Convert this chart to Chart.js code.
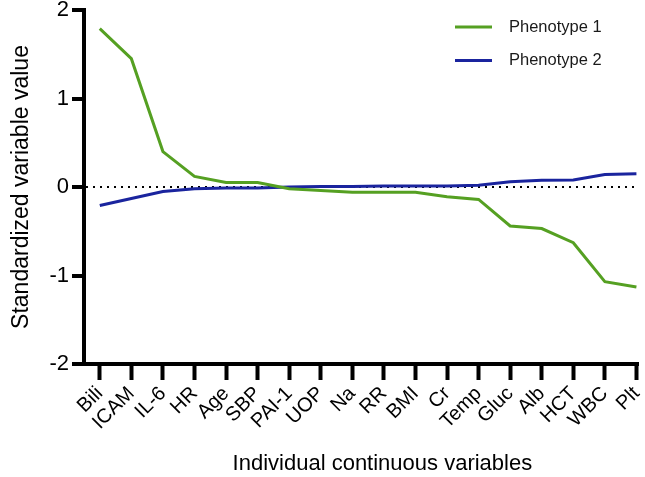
<!DOCTYPE html>
<html>
<head>
<meta charset="utf-8">
<title>Standardized variable value by phenotype</title>
<script src="https://cdn.jsdelivr.net/npm/chart.js@4.4.0/dist/chart.umd.min.js"></script>
<style>
  html, body { margin: 0; padding: 0; background: #fff; }
  canvas { display: block; }
</style>
</head>
<body>
<canvas id="chart" width="645" height="477"></canvas>
<script>
// data
const variables  = ["Bili", "ICAM", "IL-6", "HR", "Age", "SBP", "PAI-1", "UOP", "Na",
                    "RR", "BMI", "Cr", "Temp", "Gluc", "Alb", "HCT", "WBC", "Plt"];
const phenotype1 = [1.79, 1.45, 0.40, 0.12, 0.05, 0.05, -0.02, -0.04, -0.06,
                    -0.06, -0.06, -0.11, -0.14, -0.44, -0.47, -0.63, -1.07, -1.13];
const phenotype2 = [-0.21, -0.13, -0.05, -0.02, -0.01, -0.01, 0.00, 0.005, 0.005,
                    0.01, 0.01, 0.01, 0.02, 0.06, 0.075, 0.08, 0.14, 0.15];
const yTicks     = [-2, -1, 0, 1, 2];

const FONT = "'Liberation Sans', Arial, Helvetica, sans-serif";
Chart.defaults.font.family = FONT;
Chart.defaults.color = "#000";

const toPoints = vals => vals.map((v, i) => ({ x: i, y: v }));

// legend drawn top-right inside the plot, stacked vertically
const sideLegend = {
  id: "sideLegend",
  afterDraw(chart) {
    const { ctx, chartArea } = chart;
    ctx.save();
    ctx.font = "16.5px " + FONT;
    ctx.textBaseline = "middle";
    chart.data.datasets.forEach((ds, i) => {
      const x = chartArea.right - 183;
      const y = chartArea.top + 17 + i * 33.5;
      ctx.strokeStyle = ds.borderColor;
      ctx.lineWidth = 3;
      ctx.beginPath();
      ctx.moveTo(x, y);
      ctx.lineTo(x + 37, y);
      ctx.stroke();
      ctx.fillStyle = "#1a1a1a";
      ctx.fillText(ds.label, x + 54, y);
    });
    ctx.restore();
  }
};

new Chart(document.getElementById("chart"), {
  type: "line",
  data: {
    datasets: [
      {
        label: "Phenotype 1",
        data: toPoints(phenotype1),
        borderColor: "#55a022",
        borderWidth: 3,
        pointRadius: 0,
        tension: 0
      },
      {
        label: "Phenotype 2",
        data: toPoints(phenotype2),
        borderColor: "#1a249e",
        borderWidth: 3,
        pointRadius: 0,
        tension: 0
      }
    ]
  },
  options: {
    responsive: false,
    animation: false,
    layout: { padding: { top: 10, right: 7, left: 0, bottom: 0 } },
    plugins: {
      legend: { display: false },
      tooltip: { enabled: false }
    },
    scales: {
      x: {
        type: "linear",
        min: -0.5,
        max: variables.length - 0.95,
        afterBuildTicks: scale => {
          scale.ticks = variables.map((_, i) => ({ value: i }));
        },
        afterFit: scale => {
          scale.height = 113;
          scale.paddingLeft = 0;
          scale.paddingRight = 0;
        },
        ticks: {
          autoSkip: false,
          minRotation: 45,
          maxRotation: 45,
          padding: 2,
          color: "#000",
          font: { size: 20 },
          callback: v => variables[v]
        },
        grid: {
          drawOnChartArea: false,
          drawTicks: true,
          tickLength: 16,
          tickWidth: 4,
          tickColor: "#000"
        },
        border: { display: true, color: "#000", width: 4 },
        title: {
          display: true,
          text: "       Individual continuous variables",
          color: "#000",
          font: { size: 22 },
          padding: { top: 2, bottom: 0 }
        }
      },
      y: {
        min: yTicks[0],
        max: yTicks[yTicks.length - 1],
        afterBuildTicks: scale => {
          scale.ticks = yTicks.map(v => ({ value: v }));
        },
        afterFit: scale => {
          scale.width = 84;
          scale.paddingTop = 0;
          scale.paddingBottom = 0;
        },
        ticks: {
          padding: 3,
          color: "#000",
          font: { size: 22 }
        },
        grid: {
          color: ctx => (ctx.tick && ctx.tick.value === 0 ? "#000" : "rgba(0,0,0,0)"),
          lineWidth: 2,
          drawTicks: true,
          tickLength: 12,
          tickWidth: 4,
          tickColor: "#000"
        },
        border: { display: true, color: "#000", width: 4, dash: [2, 5] },
        title: {
          display: true,
          text: "Standardized variable value",
          color: "#000",
          font: { size: 23 },
          padding: { top: 8, bottom: 0 }
        }
      }
    }
  },
  plugins: [sideLegend]
});
</script>
</body>
</html>
